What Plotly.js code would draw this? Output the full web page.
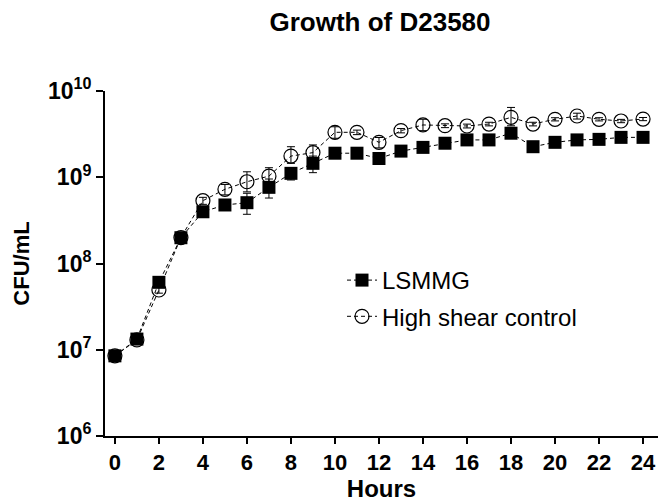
<!DOCTYPE html>
<html>
<head>
<meta charset="utf-8">
<script src="https://cdn.plot.ly/plotly-3.0.1.min.js"></script>
<style>html,body{margin:0;padding:0;background:#fff;}#chart{width:660px;height:502px;}</style>
</head>
<body>
<div id="chart"></div>
<script>
const hours = [0,1,2,3,4,5,6,7,8,9,10,11,12,13,14,15,16,17,18,19,20,21,22,23,24];
const lsmmg = [8.5e6,1.33e7,6.05e7,1.99e8,3.98e8,4.77e8,5.07e8,7.64e8,1.11e9,1.45e9,1.90e9,1.90e9,1.65e9,2.01e9,2.22e9,2.48e9,2.71e9,2.71e9,3.24e9,2.26e9,2.54e9,2.71e9,2.75e9,2.90e9,2.90e9];
const lsmmgErrUp = [3e5,5e5,3e6,1e7,2e7,3e7,1.45e8,1.9e8,1.8e8,3.1e8,1e8,1e8,1e8,1e8,1e8,1e8,1e8,1e8,2e8,1e8,1e8,1e8,1e8,1e8,1e8];
const lsmmgErrDown = [3e5,5e5,3e6,1e7,2e7,3e7,1.35e8,1.9e8,1.8e8,3.2e8,1e8,1e8,1e8,1e8,1e8,1e8,1e8,1e8,2e8,1e8,1e8,1e8,1e8,1e8,1e8];
const hsc = [8.5e6,1.3e7,4.93e7,2.0e8,5.35e8,7.25e8,8.87e8,1.03e9,1.76e9,1.93e9,3.32e9,3.32e9,2.54e9,3.47e9,4.04e9,3.96e9,3.93e9,4.14e9,4.95e9,4.14e9,4.70e9,5.13e9,4.70e9,4.49e9,4.73e9];
const hscErrUp = [3e5,5e5,4e6,1e7,5e7,1.0e8,2.7e8,2.6e8,5e8,4.4e8,5.3e8,2e8,3.5e8,2e8,6.6e8,2e8,2e8,2e8,1.5e9,2e8,2e8,4e8,2e8,2e8,2e8];
const hscErrDown = [3e5,5e5,4e6,1e7,5e7,1.0e8,2.1e8,1.8e8,3.1e8,3.5e8,4.9e8,2e8,3.5e8,2e8,5.7e8,2e8,2e8,2e8,1.0e9,2e8,2e8,4e8,2e8,2e8,2e8];
const yTickVals = [1e6,1e7,1e8,1e9,1e10];
const yTickText = ['10<sup>6</sup>','10<sup>7</sup>','10<sup>8</sup>','10<sup>9</sup>','10<sup>10</sup>'];
const xTickVals = [0,2,4,6,8,10,12,14,16,18,20,22,24];
const minorMultipliers = [2,3,4,5,6,7,8,9];
const minorDecades = [1e6,1e7,1e8,1e9];
const yMinorVals = [];
minorDecades.forEach(d => minorMultipliers.forEach(m => yMinorVals.push(d*m)));

const FONT = 'Liberation Sans, Arial, sans-serif';
const lineStyle = {color:'#000', width:1, dash:'4px,3px'};
const PLOT_W = 660 - 105 - 2;
const X_RANGE = [-0.45, 24.68];
const pxPerHour = PLOT_W / (X_RANGE[1] - X_RANGE[0]);
const minorTickX = X_RANGE[0] - 3.5 / pxPerHour;

const traces = [
  {
    x: hours, y: hsc, name: 'High shear control', type: 'scatter', mode: 'lines+markers',
    line: lineStyle, legendgroup:'b',
    marker: {symbol:'circle-open', size:14, color:'#000', line:{width:1.2, color:'#000'}},
    error_y: {type:'data', symmetric:false, array:hscErrUp, arrayminus:hscErrDown, color:'#000', thickness:1, width:4},
    legendrank: 2, cliponaxis: false
  },
  {
    x: hours, y: lsmmg, name: 'LSMMG', type: 'scatter', mode: 'lines+markers',
    line: lineStyle, legendgroup:'a',
    marker: {symbol:'square', size:13, color:'#000'},
    error_y: {type:'data', symmetric:false, array:lsmmgErrUp, arrayminus:lsmmgErrDown, color:'#000', thickness:1, width:4},
    legendrank: 1, cliponaxis: false
  },
  {
    // minor log ticks on the y axis
    x: yMinorVals.map(() => minorTickX), y: yMinorVals, type: 'scatter', mode: 'markers',
    marker: {symbol:'line-ew-open', size:6, color:'#000', line:{width:1.6, color:'#000'}},
    showlegend: false, hoverinfo: 'skip', cliponaxis: false
  }
];

const layout = {
  width: 660, height: 502,
  margin: {l:105, r:2, t:91, b:66},
  paper_bgcolor: '#fff', plot_bgcolor: '#fff',
  font: {family: FONT, color:'#000'},
  title: {text:'Growth of D23580', font:{family:FONT, size:26, weight:'bold', color:'#000'}, x:(380-105)/PLOT_W, xref:'paper', xanchor:'center', y:1-22/502, yref:'container', yanchor:'middle'},
  showlegend: true,
  legend: {x:(342-105)/PLOT_W, y:1-(258-91)/345, xanchor:'left', yanchor:'top', font:{family:FONT, size:24, color:'#000'}, bgcolor:'rgba(0,0,0,0)', tracegroupgap:2, itemwidth:30},
  xaxis: {
    range:X_RANGE, tickvals:xTickVals, ticks:'outside', ticklen:6, tickwidth:2, tickcolor:'#000',
    showline:true, linewidth:2, linecolor:'#000', showgrid:false, zeroline:false,
    tickfont:{family:FONT, size:22, weight:'bold', color:'#000'},
    title:{text:'Hours', font:{family:FONT, size:24, weight:'bold', color:'#000'}, standoff:6}
  },
  yaxis: {
    type:'log', range:[6,10], tickvals:yTickVals, ticktext:yTickText, ticks:'outside', ticklen:7, tickwidth:2, tickcolor:'#000',
    showline:true, linewidth:2, linecolor:'#000', showgrid:false, zeroline:false,
    tickfont:{family:FONT, size:23, weight:'bold', color:'#000'},
    title:{text:'CFU/mL', font:{family:FONT, size:22, weight:'bold', color:'#000'}, standoff:12}
  }
};

Plotly.newPlot('chart', traces, layout, {displayModeBar:false, staticPlot:true});
</script>
</body>
</html>
